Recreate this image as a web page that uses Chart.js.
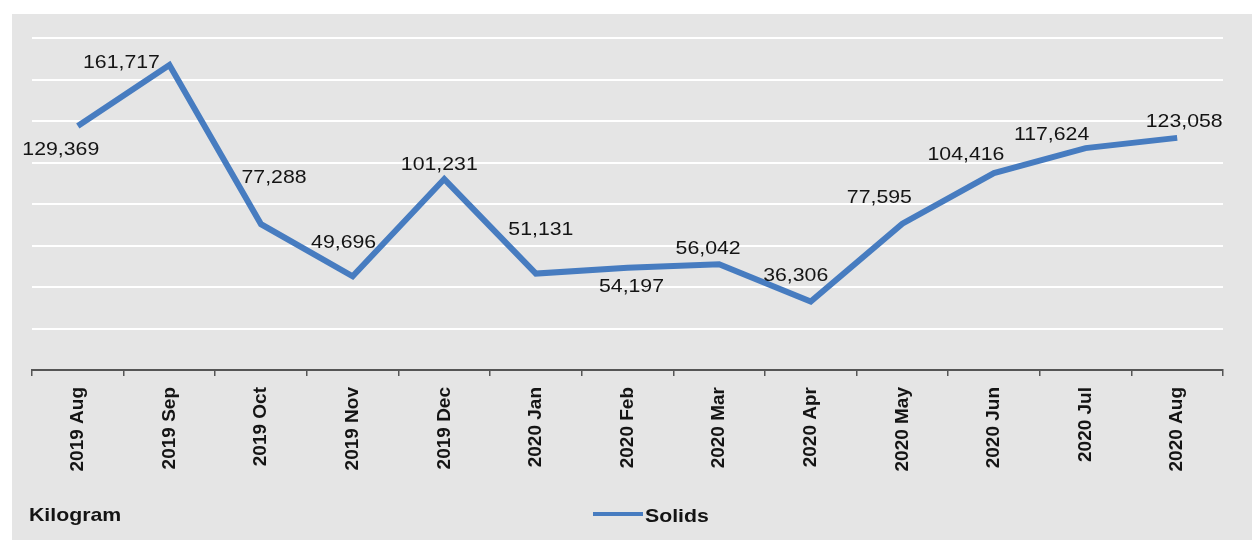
<!DOCTYPE html>
<html>
<head>
<meta charset="utf-8">
<script src="https://cdn.jsdelivr.net/npm/chart.js@4.4.0/dist/chart.umd.min.js"></script>
<style>
  html, body { margin: 0; padding: 0; background: #ffffff; }
  #wrap { position: absolute; left: 12px; top: 14px; width: 1240px; height: 526px; background: #e5e5e5; }
</style>
</head>
<body>
<div id="wrap"><canvas id="myChart" width="1240" height="526"></canvas></div>
<script>
var months = ['2019 Aug', '2019 Sep', '2019 Oct', '2019 Nov', '2019 Dec', '2020 Jan', '2020 Feb',
              '2020 Mar', '2020 Apr', '2020 May', '2020 Jun', '2020 Jul', '2020 Aug'];
var solids = [129369, 161717, 77288, 49696, 101231, 51131, 54197, 56042, 36306, 77595, 104416, 117624, 123058];
var seriesName = 'Solids';
var unitLabel = 'Kilogram';

// where each value label sits relative to its point (dx, dy of text centre)
var labelShift = [[-17, 24], [-48, -2], [13, -46], [-9, -33], [-5, -14], [5, -44], [4, 19],
                  [-11, -16], [-15, -26], [-23, -26], [-28, -18], [-34, -13], [7, -16]];

var lineColor = '#477cc0';
var textColor = '#141414';
var fontFam = '"Liberation Sans", Arial, sans-serif';

function wideText(ctx, txt, x, y, align) {
    // reference text is a little stretched sideways
    ctx.save();
    ctx.translate(x, y);
    ctx.scale(1.12, 1);
    ctx.textAlign = align;
    ctx.fillText(txt, 0, 0);
    ctx.restore();
}

var labelsPlugin = {
    id: 'labelsPlugin',
    afterDatasetsDraw: function(chart) {
        var ctx = chart.ctx;
        var meta = chart.getDatasetMeta(0);
        ctx.save();
        ctx.fillStyle = textColor;
        ctx.font = '19px ' + fontFam;
        ctx.textBaseline = 'middle';
        meta.data.forEach(function(pt, i) {
            var txt = chart.data.datasets[0].data[i].toLocaleString('en-US');
            wideText(ctx, txt, pt.x + labelShift[i][0], pt.y + labelShift[i][1], 'center');
        });
        ctx.restore();
    },
    afterDraw: function(chart) {
        var ctx = chart.ctx;
        ctx.save();
        ctx.fillStyle = textColor;
        ctx.font = 'bold 19px ' + fontFam;
        ctx.textBaseline = 'alphabetic';
        wideText(ctx, unitLabel, 17, 507, 'left');
        // legend
        ctx.strokeStyle = lineColor;
        ctx.lineWidth = 4;
        ctx.beginPath();
        ctx.moveTo(581, 500);
        ctx.lineTo(631, 500);
        ctx.stroke();
        wideText(ctx, chart.data.datasets[0].label, 633, 508, 'left');
        ctx.restore();
    }
};

var ctx = document.getElementById('myChart').getContext('2d');
var myChart = new Chart(ctx, {
    type: 'line',
    data: {
        labels: months,
        datasets: [{
            label: seriesName,
            data: solids,
            borderColor: lineColor,
            backgroundColor: lineColor,
            borderWidth: 6,
            pointRadius: 0,
            tension: 0,
            borderJoinStyle: 'miter'
        }]
    },
    options: {
        responsive: false,
        animation: false,
        layout: { padding: { left: 20, right: 29, top: 24, bottom: 30 } },
        plugins: { legend: { display: false }, tooltip: { enabled: false } },
        scales: {
            x: {
                offset: true,
                grid: { offset: true, drawOnChartArea: false, drawTicks: true, tickLength: 6, color: '#555555', lineWidth: 1.5 },
                border: { display: true, color: '#555555', width: 2 },
                ticks: {
                    minRotation: 90, maxRotation: 90, autoSkip: false, padding: 11,
                    color: textColor,
                    font: { family: fontFam, size: 19, weight: 'bold' }
                },
                afterFit: function(scale) { scale.height = 140; }
            },
            y: {
                min: 0,
                max: 176000,
                ticks: { display: false, stepSize: 22000 },
                grid: { color: '#ffffff', lineWidth: 2, drawTicks: false },
                border: { display: false }
            }
        }
    },
    plugins: [labelsPlugin]
});
</script>
</body>
</html>
